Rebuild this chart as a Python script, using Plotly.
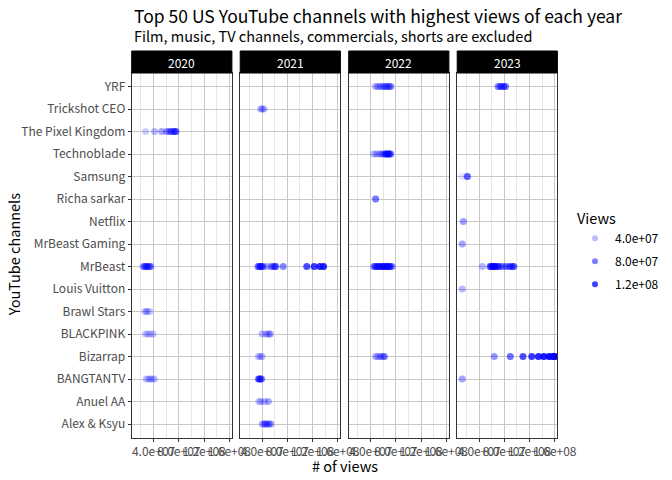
import plotly.graph_objects as go

# channels, bottom to top as they appear on the y axis
channels = ["Alex & Ksyu", "Anuel AA", "BANGTANTV", "Bizarrap", "BLACKPINK", "Brawl Stars",
            "Louis Vuitton", "MrBeast", "MrBeast Gaming", "Netflix", "Richa sarkar", "Samsung",
            "Technoblade", "The Pixel Kingdom", "Trickshot CEO", "YRF"]
years = ["2020", "2021", "2022", "2023"]

# views per video, one small table per year
views_2020 = {
    "The Pixel Kingdom": [2.72e7, 4.16e7, 5.28e7, 6.07e7, 6.49e7, 6.8e7, 7.12e7, 7.4e7, 7.55e7],
    "MrBeast": [2.3e7, 2.4e7, 2.5e7, 2.55e7, 2.6e7, 2.7e7, 2.8e7, 2.85e7, 2.9e7, 3.0e7,
                3.1e7, 3.2e7, 3.3e7, 3.4e7, 3.5e7, 3.6e7],
    "Brawl Stars": [2.6e7, 2.8e7, 3.0e7, 3.4e7],
    "BLACKPINK": [2.7e7, 3.0e7, 3.4e7, 3.9e7],
    "BANGTANTV": [2.8e7, 3.1e7, 3.4e7, 3.7e7, 4.1e7],
}
views_2021 = {
    "Trickshot CEO": [3.8e7, 4.0e7, 4.3e7],
    "MrBeast": [3.3e7, 3.4e7, 3.45e7, 3.5e7, 3.6e7, 3.7e7, 3.75e7, 3.8e7, 3.9e7, 4.0e7,
                4.1e7, 4.2e7, 4.76e7, 5.4e7, 5.7e7, 5.9e7, 6.1e7, 6.2e7, 7.35e7,
                1.108e8, 1.224e8, 1.315e8, 1.372e8],
    "BLACKPINK": [4.0e7, 4.6e7, 5.0e7, 5.3e7],
    "Bizarrap": [3.4e7, 3.7e7, 4.0e7],
    "BANGTANTV": [3.4e7, 3.45e7, 3.5e7, 3.55e7, 3.6e7, 3.7e7, 3.8e7, 3.9e7, 3.95e7],
    "Anuel AA": [3.5e7, 3.8e7, 4.4e7, 5.0e7],
    "Alex & Ksyu": [4.0e7, 4.3e7, 4.45e7, 4.6e7, 4.9e7, 5.1e7, 5.4e7],
}
views_2022 = {
    "YRF": [4.8e7, 5.2e7, 5.6e7, 6.0e7, 6.3e7, 6.6e7, 6.9e7, 7.2e7],
    "Technoblade": [4.5e7, 5.0e7, 5.5e7, 5.9e7, 6.2e7, 6.4e7, 6.5e7, 6.6e7, 6.8e7, 6.9e7,
                    7.0e7, 7.2e7],
    "Richa sarkar": [4.8e7, 4.8e7],
    "MrBeast": [4.5e7, 4.6e7, 4.7e7, 4.9e7, 5.0e7, 5.1e7, 5.3e7, 5.4e7, 5.5e7, 5.7e7, 5.8e7,
                5.9e7, 6.1e7, 6.2e7, 6.3e7, 6.5e7, 6.6e7, 6.7e7, 6.9e7, 7.0e7, 7.1e7, 7.4e7],
    "Bizarrap": [4.8e7, 5.2e7, 5.6e7, 6.0e7, 6.2e7],
}
views_2023 = {
    "YRF": [7.0e7, 7.3e7, 7.6e7, 7.9e7, 8.2e7],
    "Samsung": [1.34e7, 2.1e7, 2.12e7, 2.14e7, 2.15e7, 2.17e7, 2.2e7],
    "Netflix": [1.5e7, 1.5e7, 1.52e7, 1.52e7],
    "MrBeast Gaming": [1.34e7, 1.34e7, 1.36e7, 1.36e7],
    "MrBeast": [4.53e7, 5.7e7, 5.8e7, 5.9e7, 6.0e7, 6.1e7, 6.2e7, 6.3e7, 6.4e7, 6.5e7, 6.6e7,
                6.8e7, 7.0e7, 7.2e7, 7.7e7, 8.25e7, 8.8e7, 9.2e7, 9.5e7],
    "Louis Vuitton": [1.34e7, 1.34e7, 1.36e7],
    "Bizarrap": [6.4e7, 8.94e7, 1.095e8, 1.234e8, 1.34e8, 1.425e8, 1.51e8, 1.57e8, 1.6e8],
    "BANGTANTV": [1.34e7, 1.34e7, 1.36e7, 1.36e7],
}
all_views = [views_2020, views_2021, views_2022, views_2023]

x_ticks = [4e7, 8e7, 1.2e8, 1.6e8]
x_labels = ["4.0e+07", "8.0e+07", "1.2e+08", "1.6e+08"]
legend_breaks = [4e7, 8e7, 1.2e8]
legend_labels = ["4.0e+07", "8.0e+07", "1.2e+08"]

FONT = "Noto Sans CJK KR"
# the page body has an 8px margin, so the figure is drawn 8px in from the window corner
OFF = 8
W, H = 672 - OFF, 480 - OFF

def px(x):   # window pixel -> paper fraction
    return (x - OFF) / W
def py(y):
    return 1 - (y - OFF) / H

# alpha scale like ggplot: linear from data min to max -> 0.1..1
flat = [v for d in all_views for vals in d.values() for v in vals]
vmin, vmax = min(flat), max(flat)
def alpha(v):
    return 0.1 + 0.9 * (v - vmin) / (vmax - vmin)
def blue(v):
    return "rgba(0,0,255,%.3f)" % alpha(v)

fig = go.Figure()

# panel geometry in window pixels
panel_w, gap, left0 = 100.2, 8.3, 131.7
top_px, bot_px, strip_top = 73, 437.5, 51
xr = [5.4e6, 1.64e8]

for i, (yr, d) in enumerate(zip(years, all_views)):
    xs, ys = [], []
    for ch, vals in d.items():
        for v in vals:
            xs.append(v)
            ys.append(ch)
    n = "" if i == 0 else str(i + 1)
    fig.add_trace(go.Scatter(
        x=xs, y=ys, mode="markers", xaxis="x" + n, yaxis="y" + n, showlegend=False,
        marker=dict(size=7, color=[blue(v) for v in xs], line=dict(width=0)),
        hoverinfo="x+y"))

    x0 = px(left0 + i * (panel_w + gap))
    x1 = px(left0 + i * (panel_w + gap) + panel_w)
    common = dict(showline=True, mirror=True, linecolor="#333333", linewidth=1,
                  ticklen=3, tickcolor="#333333", zeroline=False, automargin=False)
    fig.update_layout(**{
        "xaxis" + n: dict(domain=[x0, x1], range=xr, tickmode="array", tickvals=x_ticks,
                          ticktext=x_labels, tickangle=0, ticks="outside",
                          showgrid=True, gridcolor="#c8c8c8", gridwidth=1,
                          minor=dict(tickmode="array", tickvals=[2e7, 6e7, 1e8, 1.4e8],
                                     showgrid=True, gridcolor="#e6e6e6", gridwidth=1, ticks=""),
                          tickfont=dict(family=FONT, size=12, color="#4d4d4d"),
                          anchor="y" + n, **common),
        "yaxis" + n: dict(domain=[py(bot_px), py(top_px)], type="category",
                          categoryorder="array", categoryarray=channels, range=[-0.6, 15.6],
                          showgrid=True, gridcolor="#c8c8c8", gridwidth=1,
                          showticklabels=(i == 0), anchor="x" + n,
                          ticks="outside" if i == 0 else "",
                          tickfont=dict(family=FONT, size=12, color="#4d4d4d"),
                          **common),
    })
    if i > 0:
        fig.layout["yaxis" + n].matches = "y"

    # facet strip
    fig.add_shape(type="rect", xref="paper", yref="paper", x0=x0, x1=x1,
                  y0=py(top_px), y1=py(strip_top), fillcolor="black",
                  line=dict(color="black", width=1))
    fig.add_annotation(text=yr, xref="paper", yref="paper", x=(x0 + x1) / 2,
                       y=py((top_px + strip_top) / 2), xanchor="center", yanchor="middle",
                       showarrow=False, font=dict(family=FONT, size=12, color="white"))

# legend entries for the alpha scale
for v, lab in zip(legend_breaks, legend_labels):
    fig.add_trace(go.Scatter(x=[None], y=[None], mode="markers", name=lab, legendgroup=lab,
                             marker=dict(size=6, color=blue(v)), showlegend=True))

fig.add_annotation(text="Top 50 US YouTube channels with highest views of each year",
                   xref="paper", yref="paper", x=px(left0), y=py(16), xanchor="left",
                   yanchor="middle", showarrow=False,
                   font=dict(family=FONT, size=17.5, color="black"))
fig.add_annotation(text="Film, music, TV channels, commercials, shorts are excluded",
                   xref="paper", yref="paper", x=px(left0), y=py(36), xanchor="left",
                   yanchor="middle", showarrow=False,
                   font=dict(family=FONT, size=14.5, color="black"))
fig.add_annotation(text="# of views", xref="paper", yref="paper",
                   x=px(left0 + (4 * panel_w + 3 * gap) / 2), y=py(465),
                   xanchor="center", yanchor="middle",
                   showarrow=False, font=dict(family=FONT, size=14.5, color="black"))
fig.add_annotation(text="YouTube channels", xref="paper", yref="paper", x=px(13),
                   y=py((top_px + bot_px) / 2), textangle=-90, xanchor="center",
                   yanchor="middle", showarrow=False,
                   font=dict(family=FONT, size=14.5, color="black"))

fig.update_layout(
    width=W, height=H, margin=dict(l=0, r=0, t=0, b=0),
    paper_bgcolor="white", plot_bgcolor="white",
    legend=dict(x=px(575), y=py(205), xanchor="left", yanchor="top",
                title=dict(text="Views", font=dict(family=FONT, size=14.5, color="black")),
                font=dict(family=FONT, size=12, color="black"), tracegroupgap=4,
                bgcolor="rgba(0,0,0,0)"),
    hovermode="closest",
)

fig.write_html("out.html")
